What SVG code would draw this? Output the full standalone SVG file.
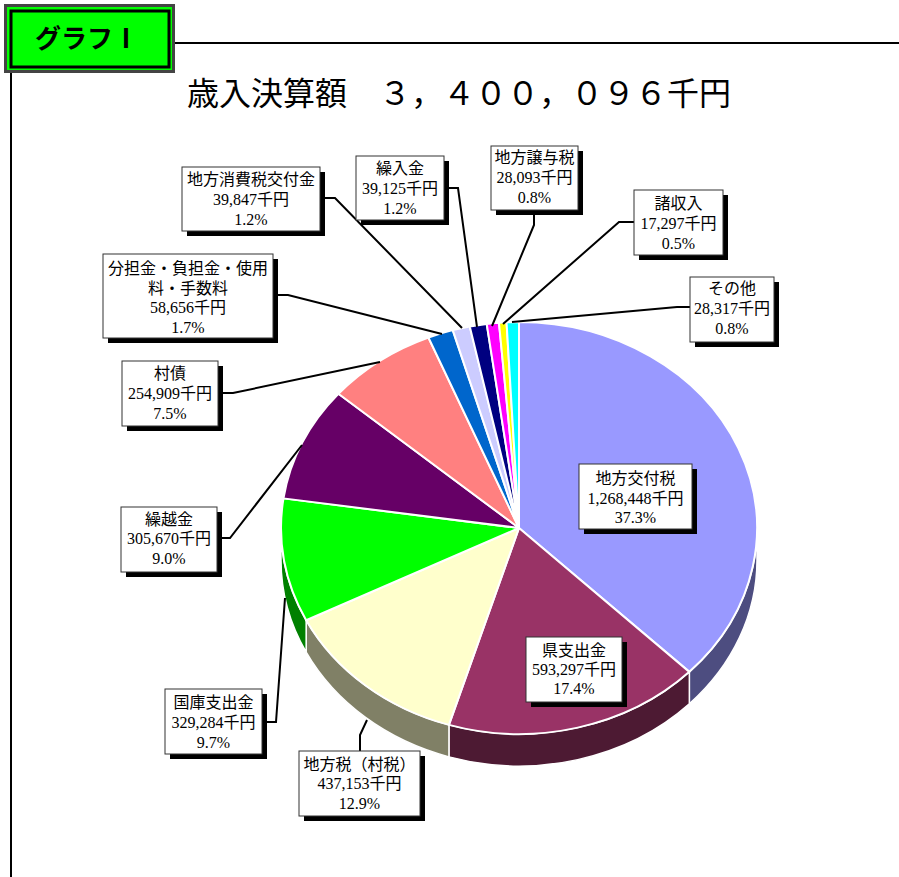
<svg xmlns="http://www.w3.org/2000/svg" width="899" height="877" viewBox="0 0 899 877">
<style>
.lbl{font-family:"Liberation Serif","Noto Sans CJK JP",serif;font-size:16px;fill:#000;text-anchor:middle}
.box{fill:#fff;stroke:#333;stroke-width:1}
.shd{fill:#000}
.ld{fill:none;stroke:#000;stroke-width:2}
.sl{stroke:#fff;stroke-width:2;stroke-linejoin:round}
.sd{stroke:#fff;stroke-width:1.5;stroke-linejoin:round}
</style>
<rect width="899" height="877" fill="#fff"/>
<g id="frame">
<line x1="174" y1="43" x2="899" y2="43" stroke="#000" stroke-width="2"/>
<line x1="11" y1="72" x2="11" y2="877" stroke="#000" stroke-width="2"/>
</g>
<g id="badge">
<rect x="5.5" y="5.5" width="168" height="66" fill="#00ff00" stroke="#444" stroke-width="3"/>
<rect x="11" y="11" width="158" height="56" fill="none" stroke="#000" stroke-width="3"/>
<text x="87" y="48" font-family="'Noto Sans CJK JP',sans-serif" font-weight="bold" font-size="26" text-anchor="middle">グラフⅠ</text>
</g>
<g id="title">
<text x="187" y="105" font-family="'Noto Sans CJK JP',sans-serif" font-size="32">歳入決算額　３，４００，０９６千円</text>
</g>
<g id="pie">
<!-- sides -->
<path class="sd" fill="#4d4d80" d="M757,528 A238,206 0 0 1 689.34,671.87 L689.34,703.87 A238,206 0 0 0 757,560 Z"/>
<path class="sd" fill="#4d1a33" d="M689.34,671.87 A238,206 0 0 1 448.93,724.87 L448.93,756.87 A238,206 0 0 0 689.34,703.87 Z"/>
<path class="sd" fill="#808066" d="M448.93,724.87 A238,206 0 0 1 306.16,620.21 L306.16,652.21 A238,206 0 0 0 448.93,756.87 Z"/>
<path class="sd" fill="#008000" d="M306.16,620.21 A238,206 0 0 1 281,528 L281,560 A238,206 0 0 0 306.16,652.21 Z"/>
<!-- top slices -->
<path class="sl" fill="#9999ff" d="M519,528 L519,322 A238,206 0 0 1 689.34,671.87 Z"/>
<path class="sl" fill="#993366" d="M519,528 L689.34,671.87 A238,206 0 0 1 448.93,724.87 Z"/>
<path class="sl" fill="#ffffcc" d="M519,528 L448.93,724.87 A238,206 0 0 1 306.16,620.21 Z"/>
<path class="sl" fill="#00ff00" d="M519,528 L306.16,620.21 A238,206 0 0 1 283.48,498.38 Z"/>
<path class="sl" fill="#660066" d="M519,528 L283.48,498.38 A238,206 0 0 1 338.43,393.79 Z"/>
<path class="sl" fill="#ff8080" d="M519,528 L338.43,393.79 A238,206 0 0 1 428.42,337.51 Z"/>
<path class="sl" fill="#0066cc" d="M519,528 L428.42,337.51 A238,206 0 0 1 452.76,330.14 Z"/>
<path class="sl" fill="#ccccff" d="M519,528 L452.76,330.14 A238,206 0 0 1 469.76,326.45 Z"/>
<path class="sl" fill="#000080" d="M519,528 L469.76,326.45 A238,206 0 0 1 486.70,323.92 Z"/>
<path class="sl" fill="#ff00ff" d="M519,528 L486.70,323.92 A238,206 0 0 1 498.96,322.74 Z"/>
<path class="sl" fill="#ffff00" d="M519,528 L498.96,322.74 A238,206 0 0 1 506.55,322.29 Z"/>
<path class="sl" fill="#00ffff" d="M519,528 L506.55,322.29 A238,206 0 0 1 519,322 Z"/>
</g>
<g id="connectors">
<polyline class="ld" points="320,198 335,198 462,328"/>
<polyline class="ld" points="273,295 288,295 442,334"/>
<polyline class="ld" points="444,188 458,188 477,327"/>
<polyline class="ld" points="534,210 534,225 492,326"/>
<polyline class="ld" points="634,222 619,222 503,324"/>
<polyline class="ld" points="690,307 677,307 512,322"/>
<polyline class="ld" points="218,393 233,393 380,362"/>
<polyline class="ld" points="217,538 230,538 302,445"/>
<polyline class="ld" points="262,722 276,722 285,598"/>
<polyline class="ld" points="360,751 360,735 367,720"/>
</g>
<g id="n-chihoushouhizei">
<rect class="shd" x="187" y="172" width="138" height="64"/>
<rect class="box" x="182" y="167" width="138" height="64"/>
<text class="lbl" x="251" y="185">地方消費税交付金</text>
<text class="lbl" x="251" y="205">39,847千円</text>
<text class="lbl" x="251" y="225">1.2%</text>
</g>
<g id="n-buntankin">
<rect class="shd" x="108" y="259" width="170" height="84"/>
<rect class="box" x="103" y="254" width="170" height="84"/>
<text class="lbl" x="188" y="274">分担金・負担金・使用</text>
<text class="lbl" x="188" y="293.5">料・手数料</text>
<text class="lbl" x="188" y="313">58,656千円</text>
<text class="lbl" x="188" y="332.5">1.7%</text>
</g>
<g id="n-kurirekin">
<rect class="shd" x="361" y="161" width="88" height="64"/>
<rect class="box" x="356" y="156" width="88" height="64"/>
<text class="lbl" x="400" y="174">繰入金</text>
<text class="lbl" x="400" y="194">39,125千円</text>
<text class="lbl" x="400" y="214">1.2%</text>
</g>
<g id="n-jouyozei">
<rect class="shd" x="496" y="151" width="87" height="64"/>
<rect class="box" x="491" y="146" width="87" height="64"/>
<text class="lbl" x="534.5" y="163">地方譲与税</text>
<text class="lbl" x="534.5" y="183">28,093千円</text>
<text class="lbl" x="534.5" y="203">0.8%</text>
</g>
<g id="n-shoshuunyuu">
<rect class="shd" x="639" y="195" width="89" height="65"/>
<rect class="box" x="634" y="190" width="89" height="65"/>
<text class="lbl" x="678.5" y="209">諸収入</text>
<text class="lbl" x="678.5" y="229">17,297千円</text>
<text class="lbl" x="678.5" y="249">0.5%</text>
</g>
<g id="n-sonota">
<rect class="shd" x="695" y="282" width="84" height="65"/>
<rect class="box" x="690" y="277" width="84" height="65"/>
<text class="lbl" x="732" y="294">その他</text>
<text class="lbl" x="732" y="314">28,317千円</text>
<text class="lbl" x="732" y="334">0.8%</text>
</g>
<g id="n-sonsai">
<rect class="shd" x="127" y="366" width="96" height="65"/>
<rect class="box" x="122" y="361" width="96" height="65"/>
<text class="lbl" x="170" y="379">村債</text>
<text class="lbl" x="170" y="399">254,909千円</text>
<text class="lbl" x="170" y="419">7.5%</text>
</g>
<g id="n-kurikoshi">
<rect class="shd" x="126" y="512" width="96" height="65"/>
<rect class="box" x="121" y="507" width="96" height="65"/>
<text class="lbl" x="169" y="525">繰越金</text>
<text class="lbl" x="169" y="544">305,670千円</text>
<text class="lbl" x="169" y="564">9.0%</text>
</g>
<g id="n-koufuzei">
<rect class="shd" x="584" y="469" width="113" height="65"/>
<rect class="box" x="579" y="464" width="113" height="65"/>
<text class="lbl" x="635.5" y="484">地方交付税</text>
<text class="lbl" x="635.5" y="504">1,268,448千円</text>
<text class="lbl" x="635.5" y="523">37.3%</text>
</g>
<g id="n-kenshishutsu">
<rect class="shd" x="531" y="642" width="96" height="65"/>
<rect class="box" x="526" y="637" width="96" height="65"/>
<text class="lbl" x="574" y="656">県支出金</text>
<text class="lbl" x="574" y="675">593,297千円</text>
<text class="lbl" x="574" y="694">17.4%</text>
</g>
<g id="n-kokko">
<rect class="shd" x="170" y="694" width="97" height="65"/>
<rect class="box" x="165" y="689" width="97" height="65"/>
<text class="lbl" x="213.5" y="708">国庫支出金</text>
<text class="lbl" x="213.5" y="728">329,284千円</text>
<text class="lbl" x="213.5" y="748">9.7%</text>
</g>
<g id="n-chihouzei">
<rect class="shd" x="304" y="756" width="121" height="65"/>
<rect class="box" x="299" y="751" width="121" height="65"/>
<text class="lbl" x="359.5" y="770">地方税（村税）</text>
<text class="lbl" x="359.5" y="789">437,153千円</text>
<text class="lbl" x="359.5" y="809">12.9%</text>
</g>
</svg>
